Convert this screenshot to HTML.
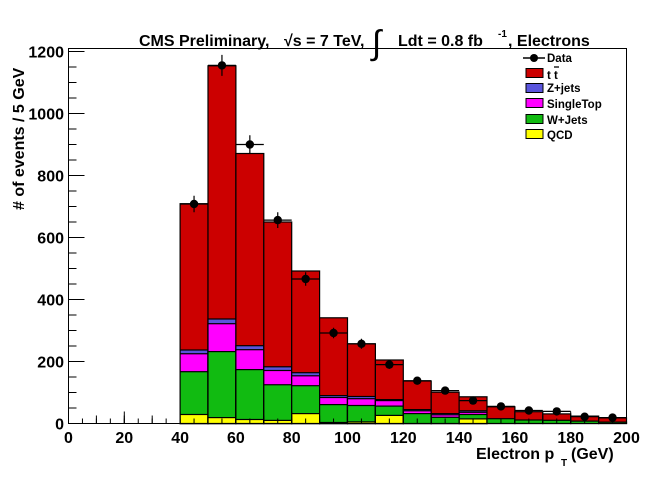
<!DOCTYPE html>
<html><head><meta charset="utf-8"><style>
html,body{margin:0;padding:0;background:#fff;}
svg{display:block;font-family:"Liberation Sans",sans-serif;font-weight:bold;}
</style></head><body>
<svg width="659" height="499" viewBox="0 0 659 499" xmlns="http://www.w3.org/2000/svg">
<rect width="659" height="499" fill="#fff"/>
<g stroke="#000" stroke-width="1.2">
<!-- bin1 -->
<rect x="180.1" y="203.7" width="27.9" height="219.8" fill="#cc0000"/>
<rect x="180.1" y="350.0" width="27.9" height="73.5" fill="#5a55dd"/>
<rect x="180.1" y="353.75" width="27.9" height="69.75" fill="#ff00ff"/>
<rect x="180.1" y="371.7" width="27.9" height="51.8" fill="#11bb11"/>
<rect x="180.1" y="414.5" width="27.9" height="9" fill="#ffff00"/>
<!-- bin2 -->
<rect x="208" y="65.8" width="27.9" height="357.7" fill="#cc0000"/>
<rect x="208" y="319.0" width="27.9" height="104.5" fill="#5a55dd"/>
<rect x="208" y="323.7" width="27.9" height="99.8" fill="#ff00ff"/>
<rect x="208" y="351.6" width="27.9" height="71.9" fill="#11bb11"/>
<rect x="208" y="417.6" width="27.9" height="5.9" fill="#ffff00"/>
<!-- bin3 -->
<rect x="235.9" y="153.5" width="27.9" height="270" fill="#cc0000"/>
<rect x="235.9" y="345.7" width="27.9" height="77.8" fill="#5a55dd"/>
<rect x="235.9" y="349.7" width="27.9" height="73.8" fill="#ff00ff"/>
<rect x="235.9" y="369.6" width="27.9" height="53.9" fill="#11bb11"/>
<rect x="235.9" y="419.5" width="27.9" height="4" fill="#ffff00"/>
<!-- bin4 -->
<rect x="263.8" y="222.0" width="27.9" height="201.5" fill="#cc0000"/>
<rect x="263.8" y="366.8" width="27.9" height="56.7" fill="#5a55dd"/>
<rect x="263.8" y="370.5" width="27.9" height="53" fill="#ff00ff"/>
<rect x="263.8" y="384.75" width="27.9" height="38.75" fill="#11bb11"/>
<rect x="263.8" y="420.4" width="27.9" height="3.1" fill="#ffff00"/>
<!-- bin5 -->
<rect x="291.7" y="271.0" width="27.9" height="152.5" fill="#cc0000"/>
<rect x="291.7" y="372.7" width="27.9" height="50.8" fill="#5a55dd"/>
<rect x="291.7" y="375.8" width="27.9" height="47.7" fill="#ff00ff"/>
<rect x="291.7" y="385.7" width="27.9" height="37.8" fill="#11bb11"/>
<rect x="291.7" y="413.6" width="27.9" height="9.9" fill="#ffff00"/>
<!-- bin6 -->
<rect x="319.6" y="317.8" width="27.9" height="105.7" fill="#cc0000"/>
<rect x="319.6" y="395.6" width="27.9" height="27.9" fill="#5a55dd"/>
<rect x="319.6" y="397.5" width="27.9" height="26" fill="#ff00ff"/>
<rect x="319.6" y="404.6" width="27.9" height="18.9" fill="#11bb11"/>
<rect x="319.6" y="422.5" width="27.9" height="1" fill="#ffff00"/>
<!-- bin7 -->
<rect x="347.5" y="343.8" width="27.9" height="79.7" fill="#cc0000"/>
<rect x="347.5" y="396.5" width="27.9" height="27" fill="#5a55dd"/>
<rect x="347.5" y="398.7" width="27.9" height="24.8" fill="#ff00ff"/>
<rect x="347.5" y="405.5" width="27.9" height="18" fill="#11bb11"/>
<rect x="347.5" y="421.9" width="27.9" height="1.6" fill="#ffff00"/>
<!-- bin8 -->
<rect x="375.4" y="360.0" width="27.9" height="63.5" fill="#cc0000"/>
<rect x="375.4" y="399.6" width="27.9" height="23.9" fill="#5a55dd"/>
<rect x="375.4" y="400.6" width="27.9" height="22.9" fill="#ff00ff"/>
<rect x="375.4" y="406.1" width="27.9" height="17.4" fill="#11bb11"/>
<rect x="375.4" y="415.4" width="27.9" height="8.1" fill="#ffff00"/>
<!-- bin9 -->
<rect x="403.3" y="381.0" width="27.9" height="42.5" fill="#cc0000"/>
<rect x="403.3" y="409.6" width="27.9" height="13.9" fill="#5a55dd"/>
<rect x="403.3" y="410.8" width="27.9" height="12.7" fill="#ff00ff"/>
<rect x="403.3" y="413.6" width="27.9" height="9.9" fill="#11bb11"/>
<!-- bin10 -->
<rect x="431.2" y="392.2" width="27.9" height="31.3" fill="#cc0000"/>
<rect x="431.2" y="413.6" width="27.9" height="9.9" fill="#5a55dd"/>
<rect x="431.2" y="414.8" width="27.9" height="8.7" fill="#ff00ff"/>
<rect x="431.2" y="417.3" width="27.9" height="6.2" fill="#11bb11"/>
<!-- bin11 -->
<rect x="459.1" y="396.8" width="27.9" height="26.7" fill="#cc0000"/>
<rect x="459.1" y="410.8" width="27.9" height="12.7" fill="#5a55dd"/>
<rect x="459.1" y="412.3" width="27.9" height="11.2" fill="#ff00ff"/>
<rect x="459.1" y="414.5" width="27.9" height="9" fill="#11bb11"/>
<rect x="459.1" y="418.9" width="27.9" height="4.6" fill="#ffff00"/>
<!-- bin12-16 -->
<rect x="487" y="406.8" width="27.9" height="16.7" fill="#cc0000"/>
<rect x="487" y="418.7" width="27.9" height="4.8" fill="#11bb11"/>
<rect x="514.9" y="411.7" width="27.9" height="11.8" fill="#cc0000"/>
<rect x="514.9" y="420.0" width="27.9" height="3.5" fill="#11bb11"/>
<rect x="542.8" y="413.9" width="27.9" height="9.6" fill="#cc0000"/>
<rect x="542.8" y="420.3" width="27.9" height="3.2" fill="#11bb11"/>
<rect x="570.7" y="416.1" width="27.9" height="7.4" fill="#cc0000"/>
<rect x="570.7" y="421.1" width="27.9" height="2.4" fill="#11bb11"/>
<rect x="598.6" y="417.9" width="27.9" height="5.6" fill="#cc0000"/>
<rect x="598.6" y="422.1" width="27.9" height="1.4" fill="#11bb11"/>
</g>
<!-- data -->
<g stroke="#000" stroke-width="1.2">
<path d="M180.1 204H208M194.05 195.8V212.2
M208 65.4H235.9M221.95 54.9V75.9
M235.9 144.5H263.8M249.85 135.2V153.8
M263.8 220.1H291.7M277.75 212.2V228
M291.7 279H319.6M305.65 272.3V285.7
M319.6 333H347.5M333.55 327.7V338.3
M347.5 343.8H375.4M361.45 338.8V348.8
M375.4 364.6H403.3M389.35 360.3V368.9
M403.3 380.7H431.2M417.25 377.1V384.3
M431.2 390.6H459.1M445.15 387.4V393.8
M459.1 400.6H487M473.05 397.9V403.3
M487 406.4H514.9M500.95 404.1V408.7
M514.9 410.5H542.8M528.85 408.5V412.5
M542.8 411.4H570.7M556.75 409.5V413.3
M570.7 416.7H598.6M584.65 415.2V418.2
M598.6 417.6H626.5M612.55 416.2V419"/>
</g>
<g fill="#000">
<circle cx="194.05" cy="204" r="4.2"/><circle cx="221.95" cy="65.4" r="4.2"/>
<circle cx="249.85" cy="144.5" r="4.2"/><circle cx="277.75" cy="220.1" r="4.2"/>
<circle cx="305.65" cy="279" r="4.2"/><circle cx="333.55" cy="333" r="4.2"/>
<circle cx="361.45" cy="343.8" r="4.2"/><circle cx="389.35" cy="364.6" r="4.2"/>
<circle cx="417.25" cy="380.7" r="4.2"/><circle cx="445.15" cy="390.6" r="4.2"/>
<circle cx="473.05" cy="400.6" r="4.2"/><circle cx="500.95" cy="406.4" r="4.2"/>
<circle cx="528.85" cy="410.5" r="4.2"/><circle cx="556.75" cy="411.4" r="4.2"/>
<circle cx="584.65" cy="416.7" r="4.2"/><circle cx="612.55" cy="417.6" r="4.2"/>
</g>
<rect x="68.5" y="48.5" width="558" height="375" fill="none" stroke="#000" stroke-width="1"/>
<!-- ticks -->
<g stroke="#000" fill="none">
<line x1="68" y1="421" x2="628" y2="421" stroke-width="5" stroke-dasharray="1 12.95"/>
<line x1="68" y1="419.5" x2="628" y2="419.5" stroke-width="8" stroke-dasharray="1 26.9"/>
<line x1="68" y1="417.5" x2="628" y2="417.5" stroke-width="12" stroke-dasharray="1 54.8"/>
<line x1="72.5" y1="424" x2="72.5" y2="48" stroke-width="8" stroke-dasharray="1 14.5"/>
<line x1="76.5" y1="424" x2="76.5" y2="48" stroke-width="16" stroke-dasharray="1 61"/>
</g>
<g font-size="16" text-anchor="middle">
<text x="68.5" y="443">0</text><text x="124.3" y="443">20</text><text x="180.1" y="443">40</text>
<text x="235.9" y="443">60</text><text x="291.7" y="443">80</text><text x="347.5" y="443">100</text>
<text x="403.3" y="443">120</text><text x="459.1" y="443">140</text><text x="514.9" y="443">160</text>
<text x="570.7" y="443">180</text><text x="626.5" y="443">200</text>
</g>
<g font-size="16" text-anchor="end">
<text x="64" y="429.5">0</text><text x="64" y="367.5">200</text><text x="64" y="305.5">400</text>
<text x="64" y="243.5">600</text><text x="64" y="181.5">800</text><text x="64" y="119.5">1000</text>
<text x="64" y="57.5">1200</text>
</g>
<text x="0" y="0" font-size="16" transform="translate(24,210) rotate(-90)"># of events / 5 GeV</text>
<text x="476" y="459" font-size="16">Electron p</text>
<text x="561" y="466" font-size="10">T</text>
<text x="571" y="459" font-size="16">(GeV)</text>
<text x="139" y="46" font-size="16">CMS Preliminary,</text>
<text x="284" y="46" font-size="16">√s = 7 TeV,</text>
<text x="372" y="54" font-size="34" font-weight="normal">∫</text>
<text x="398" y="46" font-size="16">Ldt = 0.8 fb</text>
<text x="498" y="37" font-size="10">-1</text>
<text x="508" y="46" font-size="16">, Electrons</text>
<g font-size="11.5">
<line x1="523" y1="58" x2="545" y2="58" stroke="#000" stroke-width="1.5"/>
<circle cx="534" cy="58" r="4"/>
<text x="547" y="62">Data</text>
<rect x="526" y="68.5" width="17" height="9" fill="#cc0000" stroke="#000"/><text x="547" y="79">t t</text>
<line x1="554" y1="67" x2="559" y2="67" stroke="#000" stroke-width="1.3"/>
<rect x="526" y="83.5" width="17" height="9" fill="#5a55dd" stroke="#000"/><text x="547" y="92">Z+jets</text>
<rect x="526" y="98.5" width="17" height="9" fill="#ff00ff" stroke="#000"/><text x="547" y="108">SingleTop</text>
<rect x="526" y="114.5" width="17" height="9" fill="#11bb11" stroke="#000"/><text x="547" y="124">W+Jets</text>
<rect x="526" y="129.5" width="17" height="9" fill="#ffff00" stroke="#000"/><text x="547" y="139">QCD</text>
</g>
</svg>
</body></html>
